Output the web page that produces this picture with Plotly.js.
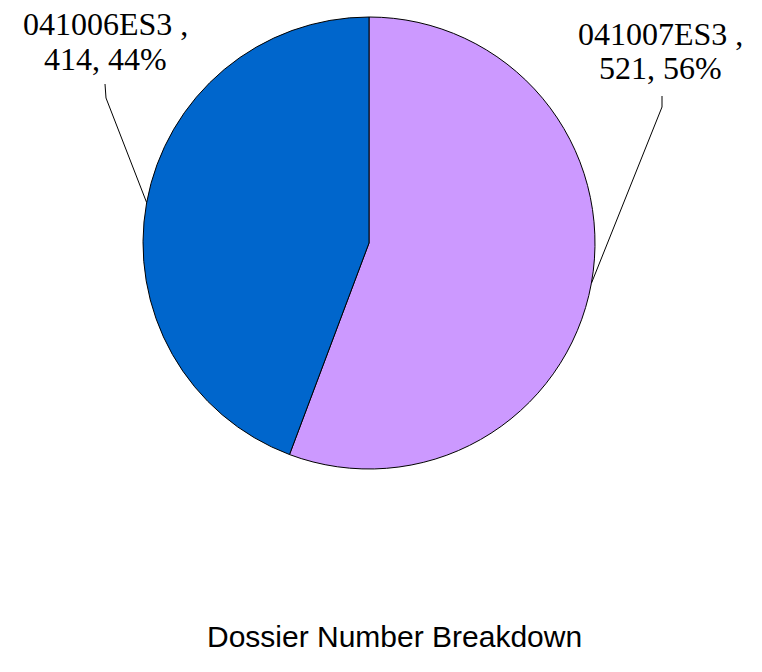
<!DOCTYPE html>
<html>
<head>
<meta charset="utf-8">
<script src="https://cdn.plot.ly/plotly-3.0.1.min.js"></script>
<style>html,body{margin:0;padding:0;background:#fff;}#chart{width:762px;height:672px;}</style>
</head>
<body>
<div id="chart"></div>
<script>
const categories = ["041007ES3", "041006ES3"];
const values = [521, 414];
const colors = ["#CC99FF", "#0066CC"];
const chartTitle = "Dossier Number Breakdown";

const W = 762, H = 672;
const cx = 369, cy = 243, R = 226;
const px = x => x / W;
const py = y => 1 - y / H;

const total = values.reduce((a, b) => a + b, 0);
const pcts = values.map(v => Math.round(v / total * 100));

// label placement (pixels): text centre x, line centres y, leader top, leader elbow
const labelPos = [
  {tx: 660, ty: [34, 68], top: [662, 96], elbow: [662, 107]},
  {tx: 105, ty: [24, 59], top: [105, 84], elbow: [106, 98]}
];

const serif = {family: 'Liberation Serif, Times New Roman, serif', size: 32, color: '#000'};
const annotations = [];
const shapes = [];
let cum = 0;
values.forEach((v, i) => {
  const mid = (cum + v / 2) / total; cum += v;
  const ang = mid * 2 * Math.PI; // clockwise from top
  const ex = cx + R * Math.sin(ang), ey = cy - R * Math.cos(ang);
  const L = labelPos[i];
  const lines = [categories[i] + " ,", v + ", " + pcts[i] + "%"];
  lines.forEach((t, k) => {
    annotations.push({
      xref: 'paper', yref: 'paper', x: px(L.tx), y: py(L.ty[k]),
      xanchor: 'center', yanchor: 'middle', showarrow: false,
      text: t, font: serif
    });
  });
  shapes.push({
    type: 'path', xref: 'paper', yref: 'paper',
    path: `M ${px(L.top[0])} ${py(L.top[1])} L ${px(L.elbow[0])} ${py(L.elbow[1])} L ${px(ex)} ${py(ey)}`,
    line: {color: '#000', width: 1}
  });
});

annotations.push({
  xref: 'paper', yref: 'paper', x: px(394), y: py(636),
  xanchor: 'center', yanchor: 'middle', showarrow: false,
  text: chartTitle,
  font: {family: 'Liberation Sans, Arial, sans-serif', size: 30, color: '#000'}
});

const data = [{
  type: 'pie',
  labels: categories,
  values: values,
  sort: false,
  direction: 'clockwise',
  rotation: 0,
  textinfo: 'none',
  hoverinfo: 'label+value+percent',
  marker: {colors: colors, line: {color: '#000', width: 1}},
  domain: {x: [px(cx - R), px(cx + R)], y: [py(cy + R), py(cy - R)]},
  showlegend: false
}];

const layout = {
  width: W, height: H,
  margin: {l: 0, r: 0, t: 0, b: 0},
  paper_bgcolor: '#fff', plot_bgcolor: '#fff',
  showlegend: false,
  annotations: annotations,
  shapes: shapes
};

Plotly.newPlot('chart', data, layout, {staticPlot: true, displayModeBar: false});
</script>
</body>
</html>
